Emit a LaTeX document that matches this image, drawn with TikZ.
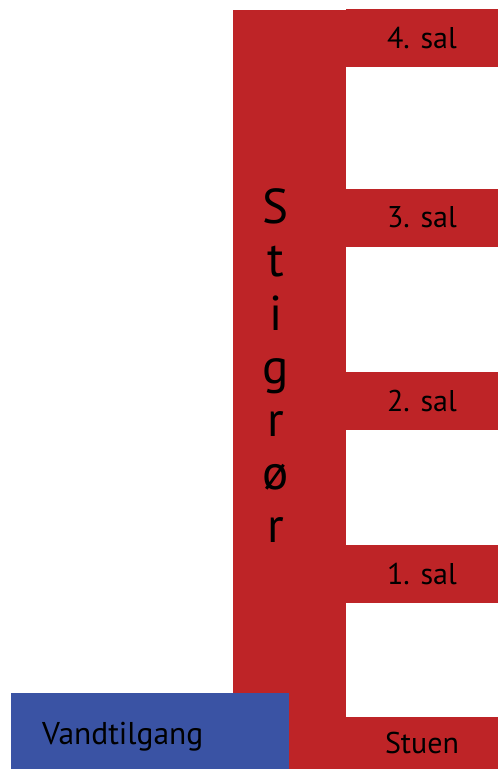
\documentclass[tikz,border=0pt]{standalone}
\usepackage{fontspec}
\setmainfont{PT Sans}
\definecolor{riserred}{HTML}{BE2427}
\definecolor{supplyblue}{HTML}{3A53A4}
\begin{document}
\begin{tikzpicture}[x=1pt, y=1pt,
    pipe/.style={fill=riserred, inner sep=0pt, outer sep=0pt},
    floorpipe/.style={pipe, anchor=south west, minimum width=152pt,
                      minimum height=58pt, font=\fontsize{30}{34}\selectfont},
    supply/.style={fill=supplyblue, inner sep=0pt, outer sep=0pt,
                   anchor=south west, minimum width=278pt, minimum height=76pt},
    supplytext/.style={anchor=base west, inner sep=0pt,
                       font=\fontsize{31.5}{34}\selectfont},
    risertext/.style={align=center, inner sep=0pt,
                      font=\fontsize{49}{53.2}\selectfont}
  ]
    \useasboundingbox (0,0) rectangle (498,769);
    \def\rx{233} \def\rw{113}

    \node[pipe, anchor=south west, minimum width=\rw pt, minimum height=759pt]
      (riser) at (\rx,0) {};

    \node[floorpipe] (f4) at (346,702) {4. sal};
    \node[floorpipe] (f3) at (346,522) {\raisebox{2pt}{3. sal}};
    \node[floorpipe] (f2) at (346,339) {\raisebox{-2pt}{2. sal}};
    \node[floorpipe] (f1) at (346,166) {1. sal};
    \node[floorpipe, minimum height=52pt] (f0) at (346,0)
      {\raisebox{-5pt}{Stuen}};

    \node[supply] (supply) at (11,0) {};
    \node[supplytext] (supplylabel) at (42,24) {Vandtilgang};

    \node[risertext, anchor=base] (label) at (276,226)
      {S\\t\\i\\g\\r\\ø\\r};
  \end{tikzpicture}
\end{document}
